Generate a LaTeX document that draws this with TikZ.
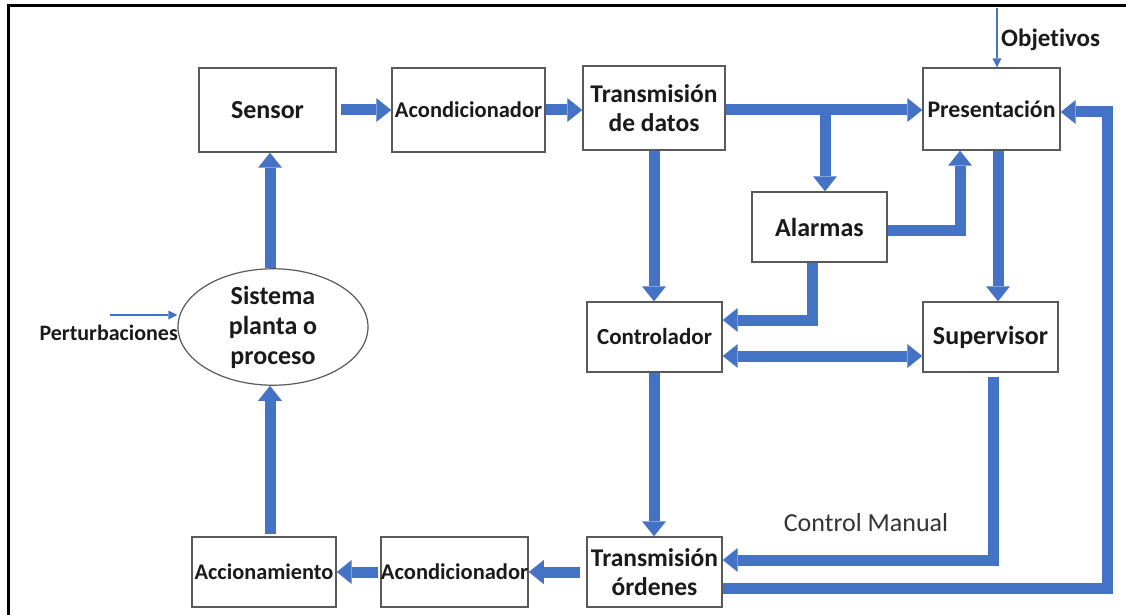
\documentclass[tikz,border=0pt]{standalone}
\usepackage{fontspec}
\setmainfont{Carlito}[Ligatures=NoCommon]
\usetikzlibrary{arrows.meta,shapes.geometric}
\definecolor{flowblue}{HTML}{4472C4}
\definecolor{boxline}{HTML}{595959}
\definecolor{inktext}{HTML}{1A1A1A}
\newcommand{\lblfont}[1]{\fontsize{#1}{29}\selectfont\bfseries}

\begin{document}
\begin{tikzpicture}[x=1pt,y=-1pt,
  box/.style={draw=boxline,line width=1.4pt,fill=white,inner sep=0pt,
              align=center,text=inktext,font=\lblfont{#1}},
  blk/.style={draw=flowblue,line width=11pt,line join=miter,
              -{Triangle[width=24pt,length=15pt,line width=0pt]}},
  dblk/.style={draw=flowblue,line width=11pt,
              {Triangle[width=24pt,length=15pt,line width=0pt]}-{Triangle[width=24pt,length=15pt,line width=0pt]}},
  thin/.style={draw=flowblue,line width=1.5pt,
              -{Triangle[width=9pt,length=9pt,line width=0pt]}},
  lbl/.style={inner sep=0pt,text=inktext}]

\clip (0,0) rectangle (1126,615);
\fill[white] (0,0) rectangle (1126,615);

% frame
\draw[line width=3pt] (8,640) -- (8,6) -- (1140,6);

% blocks
\node[box=26,minimum width=137pt,minimum height=84pt] (sensor) at (267.5,110) {Sensor};
\node[box=22.5,minimum width=153pt,minimum height=84pt] (acondA) at (468.5,110) {Acondicionador};
\node[box=25.5,minimum width=142pt,minimum height=84pt] (tdat) at (654,108) {Transmisión\\de datos};
\node[box=23.8,minimum width=137pt,minimum height=82pt] (pres) at (991.5,109) {Presentación};
\node[box=26,minimum width=135pt,minimum height=70pt] (alarm) at (819.5,227) {Alarmas};
\node[box=23,minimum width=135pt,minimum height=70pt] (ctrl) at (654.5,337) {Controlador};
\node[box=26,minimum width=135pt,minimum height=70pt] (sup) at (990.5,337) {Supervisor};
\node[box=25.5,minimum width=135pt,minimum height=70pt] (tord) at (654.5,572) {Transmisión\\órdenes};
\node[box=22.5,minimum width=145pt,minimum height=70pt] (acondB) at (454.5,572) {Acondicionador};
\node[box=22.3,minimum width=144pt,minimum height=70pt] (accion) at (264,572) {Accionamiento};
\node[ellipse,draw=boxline,line width=1.2pt,fill=white,inner sep=0pt,
      minimum width=190pt,minimum height=104pt,align=center,text=inktext,
      font=\fontsize{26}{30}\selectfont\bfseries] (plant) at (273,327)
      {Sistema\\planta o\\proceso};

% labels
\node[lbl,anchor=east,font=\lblfont{22}] (pert) at (178,333) {Perturbaciones};
\node[lbl,anchor=west,font=\lblfont{25}] (obj) at (1001,40) {Objetivos};
\node[lbl,text=black!80,font=\fontsize{26}{29}\selectfont] (cman) at (866,523) {Control Manual};

% helper points
\coordinate (vx) at (270,0);
\coordinate (objtop) at (997,8);
\coordinate (pertin) at (110,315);
\coordinate (tap) at (825,110);
\coordinate (alr) at (960,230);
\coordinate (alc) at (812,320);
\coordinate (cs) at (800,356);
\coordinate (ps) at (998,0);
\coordinate (cm) at (993,560);
\coordinate (ret) at (1107,588);
\coordinate (rettop) at (1107,112);
\coordinate (mainrow) at (0,110);

% forward measurement chain
\draw[blk,shorten <=4pt] (sensor.east) -- (acondA.west);
\draw[blk] (acondA.east) -- (tdat.west |- mainrow);
\draw[blk] (tdat.east |- mainrow) -- (pres.west |- mainrow);
\draw[blk] (tap) -- (tap |- alarm.north);
\draw[blk] (tdat.south) -- (tdat.south |- ctrl.north);

% alarms
\draw[blk] (alarm.east |- alr) -- (alr) -- (alr |- pres.south);
\draw[blk] (alarm.south -| alc) -- (alc) -- (ctrl.east |- alc);

% controller / supervisor
\draw[dblk] (ctrl.east |- cs) -- (sup.west |- cs);
\draw[blk] (pres.south -| ps) -- (sup.north -| ps);
\draw[blk,shorten <=4pt] (sup.south -| cm) -- (cm) -- (tord.east |- cm);
\draw[blk] (ctrl.south -| tdat.south) -- (tord.north -| tdat.south);
\draw[blk] (tord.east |- ret) -- (ret) -- (rettop) -- (pres.east |- rettop);

% actuation chain
\draw[blk,shorten <=6pt] (tord.west) -- (acondB.east);
\draw[blk,shorten <=2pt] (acondB.west) -- (accion.east);
\draw[blk,shorten <=2pt] (accion.north -| vx) -- (plant.south -| vx);
\draw[blk] (plant.north -| vx) -- (sensor.south -| vx);

% external inputs
\draw[thin] (pertin) -- (pertin -| plant.west);
\draw[thin] (objtop) -- (objtop |- pres.north);
\end{tikzpicture}
\end{document}
